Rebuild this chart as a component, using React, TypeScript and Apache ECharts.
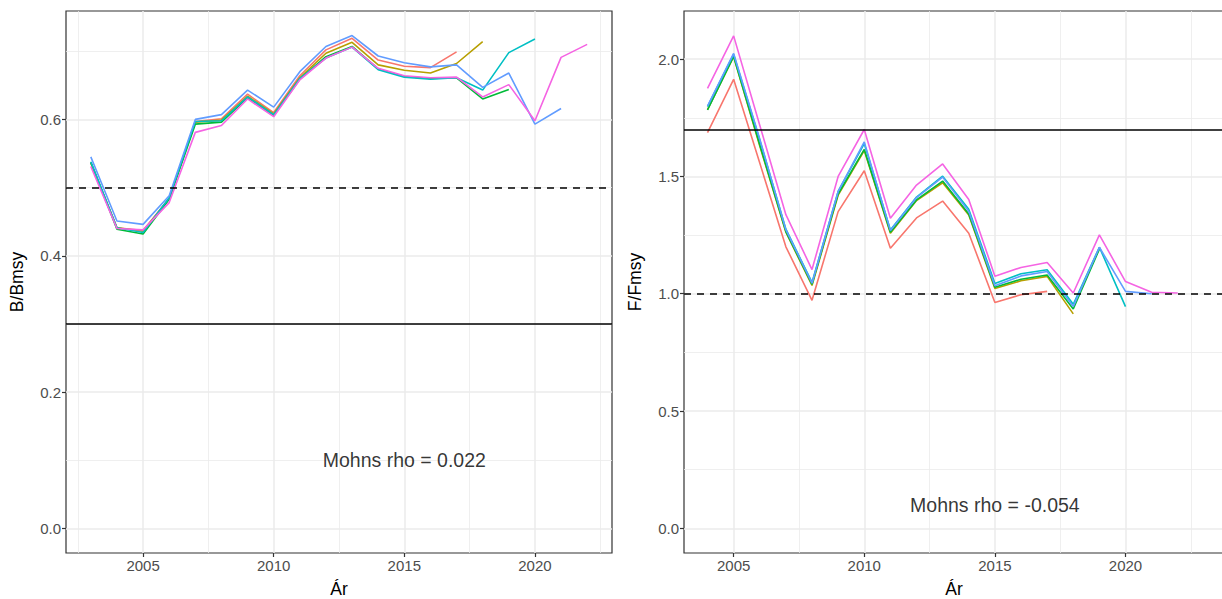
import React, { useEffect, useRef } from "react";
import * as echarts from "echarts";

// ---- data ----
const peelColors = ["#F8766D", "#B79F00", "#00BA38", "#00BFC4", "#619CFF", "#F564E3"];
const peelNames = ["2017", "2018", "2019", "2020", "2021", "2022"];

const bStartYear = 2003;
const bPeel2017 = [0.537, 0.441, 0.437, 0.484, 0.597, 0.601, 0.637, 0.610, 0.664, 0.702, 0.719, 0.687, 0.678, 0.676, 0.699];
const bPeel2018 = [0.536, 0.441, 0.436, 0.484, 0.596, 0.599, 0.634, 0.608, 0.661, 0.697, 0.713, 0.680, 0.672, 0.668, 0.682, 0.714];
const bPeel2019 = [0.537, 0.439, 0.432, 0.483, 0.593, 0.596, 0.632, 0.606, 0.659, 0.692, 0.707, 0.674, 0.663, 0.660, 0.661, 0.630, 0.644];
const bPeel2020 = [0.538, 0.441, 0.434, 0.485, 0.597, 0.598, 0.633, 0.607, 0.660, 0.690, 0.706, 0.673, 0.662, 0.659, 0.661, 0.643, 0.698, 0.718];
const bPeel2021 = [0.545, 0.451, 0.446, 0.488, 0.600, 0.607, 0.643, 0.618, 0.670, 0.707, 0.723, 0.693, 0.683, 0.677, 0.680, 0.647, 0.668, 0.593, 0.616];
const bPeel2022 = [0.531, 0.440, 0.438, 0.478, 0.581, 0.591, 0.630, 0.604, 0.658, 0.690, 0.706, 0.675, 0.664, 0.661, 0.662, 0.633, 0.651, 0.598, 0.691, 0.710];

const fStartYear = 2004;
const fPeel2017 = [1.687, 1.914, 1.557, 1.200, 0.972, 1.350, 1.524, 1.194, 1.323, 1.395, 1.258, 0.963, 0.996, 1.010];
const fPeel2018 = [1.785, 2.010, 1.630, 1.262, 1.035, 1.420, 1.610, 1.258, 1.397, 1.473, 1.336, 1.022, 1.055, 1.074, 0.914];
const fPeel2019 = [1.783, 2.012, 1.635, 1.265, 1.040, 1.425, 1.615, 1.262, 1.400, 1.480, 1.340, 1.028, 1.062, 1.080, 0.935, 1.190];
const fPeel2020 = [1.797, 2.020, 1.655, 1.275, 1.048, 1.436, 1.640, 1.272, 1.412, 1.501, 1.360, 1.044, 1.085, 1.102, 0.955, 1.198, 0.945];
const fPeel2021 = [1.800, 2.024, 1.660, 1.273, 1.045, 1.436, 1.647, 1.270, 1.410, 1.497, 1.352, 1.034, 1.076, 1.095, 0.946, 1.198, 1.010, 1.000];
const fPeel2022 = [1.875, 2.099, 1.718, 1.337, 1.103, 1.500, 1.700, 1.322, 1.463, 1.553, 1.402, 1.075, 1.112, 1.133, 1.003, 1.251, 1.052, 1.006, 1.003];

const bLimitLine = 0.3;
const bTriggerLine = 0.5;
const fLimitLine = 1.7;
const fTargetLine = 1.0;

const mohnsRhoB = "0.022";
const mohnsRhoF = "-0.054";
const rhoLabelPosB = [2015, 0.1];
const rhoLabelPosF = [2015, 0.1];

const xTicks = [2005, 2010, 2015, 2020];
const xMinorB = [2002.5, 2007.5, 2012.5, 2017.5, 2022.5];
const xMinorF = [2007.5, 2012.5, 2017.5, 2022.5];
const yTicksB = [0, 0.2, 0.4, 0.6];
const yMinorB = [0.1, 0.3, 0.5, 0.7];
const yTicksF = [0, 0.5, 1.0, 1.5, 2.0];
const yMinorF = [0.25, 0.75, 1.25, 1.75];

const xTitle = "Ár";
const yTitleB = "B/Bmsy";
const yTitleF = "F/Fmsy";

// ---- helpers ----
const FONT = "'Liberation Sans', Arial, Helvetica, sans-serif";
const toPairs = (start: number, arr: number[]) => arr.map((v, i) => [start + i, v]);

function gridLineSeries(idx: number, xMaj: number[], xMin: number[], yMaj: number[], yMin: number[]) {
  const line = (w: number) => ({ color: "#EBEBEB", width: w, type: "solid" });
  return {
    type: "line",
    xAxisIndex: idx,
    yAxisIndex: idx,
    data: [],
    silent: true,
    markLine: {
      silent: true,
      z: 1,
      symbol: ["none", "none"],
      label: { show: false },
      emphasis: { disabled: true },
      animation: false,
      data: [
        ...xMin.map((v) => ({ xAxis: v, lineStyle: line(0.8) })),
        ...yMin.map((v) => ({ yAxis: v, lineStyle: line(0.8) })),
        ...xMaj.map((v) => ({ xAxis: v, lineStyle: line(1.5) })),
        ...yMaj.map((v) => ({ yAxis: v, lineStyle: line(1.5) })),
      ],
    },
  };
}

function refLineSeries(idx: number, solid: number, dashed: number) {
  return {
    type: "line",
    xAxisIndex: idx,
    yAxisIndex: idx,
    data: [],
    silent: true,
    markLine: {
      silent: true,
      z: 6,
      symbol: ["none", "none"],
      label: { show: false },
      emphasis: { disabled: true },
      animation: false,
      data: [
        { yAxis: solid, lineStyle: { color: "#000", width: 1.6, type: "solid" } },
        { yAxis: dashed, lineStyle: { color: "#000", width: 1.6, type: [7, 6] } },
      ],
    },
  };
}

function peelSeries(idx: number, start: number, peels: number[][]) {
  return peels.map((arr, i) => ({
    name: peelNames[i],
    type: "line",
    xAxisIndex: idx,
    yAxisIndex: idx,
    data: toPairs(start, arr),
    showSymbol: false,
    symbol: "none",
    z: 3,
    lineStyle: { color: peelColors[i], width: 1.6 },
    itemStyle: { color: peelColors[i] },
  }));
}

function rhoSeries(idx: number, pos: number[], rho: string) {
  return {
    type: "scatter",
    xAxisIndex: idx,
    yAxisIndex: idx,
    data: [pos],
    symbolSize: 1,
    silent: true,
    itemStyle: { color: "rgba(0,0,0,0)" },
    z: 7,
    label: {
      show: true,
      position: "inside",
      formatter: `Mohns rho = ${rho}`,
      color: "#000",
      fontSize: 19.5,
      fontFamily: FONT,
    },
  };
}

function xAxisCfg(idx: number, min: number, max: number) {
  return {
    type: "value",
    gridIndex: idx,
    min,
    max,
    name: xTitle,
    nameLocation: "middle",
    nameGap: 27,
    nameTextStyle: { color: "#000", fontSize: 17.5, fontFamily: FONT },
    splitLine: { show: false },
    axisLine: { show: false, onZero: false },
    axisTick: { show: true, length: 4, lineStyle: { color: "#333", width: 1.2 }, customValues: xTicks },
    axisLabel: {
      customValues: xTicks,
      color: "#4D4D4D",
      fontSize: 15,
      fontFamily: FONT,
      margin: 5,
      formatter: (v: number) => String(v),
    },
  };
}

function yAxisCfg(idx: number, min: number, max: number, ticks: number[], title: string) {
  return {
    type: "value",
    gridIndex: idx,
    min,
    max,
    name: title,
    nameLocation: "middle",
    nameGap: 40,
    nameTextStyle: { color: "#000", fontSize: 17.5, fontFamily: FONT },
    splitLine: { show: false },
    axisLine: { show: false, onZero: false },
    axisTick: { show: true, length: 4, lineStyle: { color: "#333", width: 1.2 }, customValues: ticks },
    axisLabel: {
      customValues: ticks,
      color: "#4D4D4D",
      fontSize: 15,
      fontFamily: FONT,
      margin: 5,
      formatter: (v: number) => v.toFixed(1),
    },
  };
}

export default function App() {
  const ref = useRef<HTMLDivElement>(null);
  useEffect(() => {
    if (!ref.current) return;
    const chart = echarts.init(ref.current, null, { renderer: "svg" });
    const option = {
      animation: false,
      backgroundColor: "#fff",
      textStyle: { fontFamily: FONT },
      grid: [
        { left: 66, top: 11, width: 546, height: 542, show: true, borderColor: "#333", borderWidth: 1.2, backgroundColor: "#fff", outerBoundsMode: "none", containLabel: false },
        { left: 684, top: 11, width: 540, height: 542, show: true, borderColor: "#333", borderWidth: 1.2, backgroundColor: "#fff", outerBoundsMode: "none", containLabel: false },
      ],
      xAxis: [xAxisCfg(0, 2002.05, 2022.95), xAxisCfg(1, 2003.1, 2023.77)],
      yAxis: [
        yAxisCfg(0, -0.036, 0.759, yTicksB, yTitleB),
        yAxisCfg(1, -0.105, 2.205, yTicksF, yTitleF),
      ],
      series: [
        gridLineSeries(0, xTicks, xMinorB, yTicksB, yMinorB),
        gridLineSeries(1, xTicks, xMinorF, yTicksF, yMinorF),
        ...peelSeries(0, bStartYear, [bPeel2017, bPeel2018, bPeel2019, bPeel2020, bPeel2021, bPeel2022]),
        ...peelSeries(1, fStartYear, [fPeel2017, fPeel2018, fPeel2019, fPeel2020, fPeel2021, fPeel2022]),
        refLineSeries(0, bLimitLine, bTriggerLine),
        refLineSeries(1, fLimitLine, fTargetLine),
        rhoSeries(0, rhoLabelPosB, mohnsRhoB),
        rhoSeries(1, rhoLabelPosF, mohnsRhoF),
      ],
    };
    chart.setOption(option as any);
    return () => chart.dispose();
  }, []);
  return (
    <div
      ref={ref}
      style={{ position: "fixed", left: 0, top: 0, width: "1222px", height: "599px", overflow: "hidden", background: "#fff" }}
    />
  );
}
